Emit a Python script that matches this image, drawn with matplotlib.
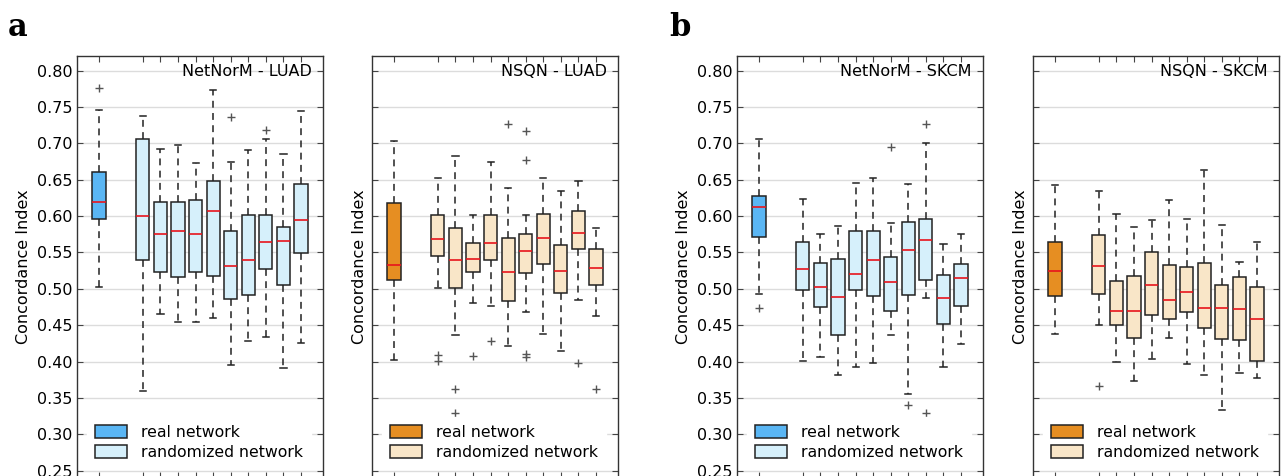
import numpy as np
import matplotlib
matplotlib.use("Agg")
import matplotlib.pyplot as plt
from matplotlib.patches import Patch

# panel titles
titles = ["NetNorM - LUAD", "NSQN - LUAD", "NetNorM - SKCM", "NSQN - SKCM"]

# box stats per panel: first entry = real network, then 10 randomized networks
# (whislo, q1, med, q3, whishi)
luad_netnorm_lo = [0.502, 0.359, 0.465, 0.454, 0.454, 0.460, 0.395, 0.428, 0.434, 0.391, 0.426]
luad_netnorm_q1 = [0.596, 0.540, 0.523, 0.516, 0.523, 0.518, 0.486, 0.492, 0.527, 0.505, 0.549]
luad_netnorm_med = [0.619, 0.600, 0.575, 0.579, 0.576, 0.607, 0.531, 0.539, 0.564, 0.566, 0.594]
luad_netnorm_q3 = [0.660, 0.706, 0.620, 0.620, 0.622, 0.648, 0.580, 0.601, 0.601, 0.585, 0.644]
luad_netnorm_hi = [0.746, 0.737, 0.692, 0.697, 0.673, 0.773, 0.675, 0.691, 0.706, 0.685, 0.745]
luad_netnorm_fl = [[0.776], [], [], [], [], [], [0.736], [], [0.718], [], []]

luad_nsqn_lo = [0.402, 0.501, 0.436, 0.480, 0.476, 0.421, 0.468, 0.438, 0.414, 0.485, 0.462]
luad_nsqn_q1 = [0.512, 0.545, 0.501, 0.523, 0.540, 0.483, 0.522, 0.534, 0.494, 0.555, 0.505]
luad_nsqn_med = [0.533, 0.569, 0.539, 0.541, 0.563, 0.523, 0.552, 0.570, 0.524, 0.577, 0.529]
luad_nsqn_q3 = [0.618, 0.602, 0.583, 0.563, 0.602, 0.570, 0.575, 0.603, 0.560, 0.607, 0.555]
luad_nsqn_hi = [0.703, 0.652, 0.683, 0.602, 0.675, 0.639, 0.602, 0.652, 0.635, 0.648, 0.584]
luad_nsqn_fl = [[], [0.409, 0.401], [0.363, 0.330], [0.408], [0.428], [0.726],
                [0.717, 0.677, 0.410, 0.406], [], [], [0.398], [0.363]]

skcm_netnorm_lo = [0.493, 0.401, 0.406, 0.382, 0.392, 0.398, 0.437, 0.356, 0.488, 0.392, 0.424]
skcm_netnorm_q1 = [0.571, 0.499, 0.475, 0.437, 0.499, 0.490, 0.469, 0.491, 0.512, 0.451, 0.477]
skcm_netnorm_med = [0.613, 0.527, 0.503, 0.489, 0.521, 0.540, 0.509, 0.554, 0.567, 0.487, 0.515]
skcm_netnorm_q3 = [0.627, 0.565, 0.536, 0.541, 0.580, 0.579, 0.544, 0.592, 0.596, 0.519, 0.534]
skcm_netnorm_hi = [0.706, 0.624, 0.576, 0.586, 0.646, 0.653, 0.591, 0.644, 0.701, 0.561, 0.575]
skcm_netnorm_fl = [[0.473], [], [], [], [], [], [0.695], [0.341], [0.726, 0.330], [], []]

skcm_nsqn_lo = [0.438, 0.450, 0.400, 0.373, 0.403, 0.432, 0.397, 0.381, 0.333, 0.384, 0.378]
skcm_nsqn_q1 = [0.490, 0.493, 0.450, 0.433, 0.464, 0.459, 0.468, 0.446, 0.431, 0.429, 0.401]
skcm_nsqn_med = [0.524, 0.531, 0.469, 0.469, 0.505, 0.485, 0.495, 0.473, 0.473, 0.472, 0.459]
skcm_nsqn_q3 = [0.564, 0.574, 0.511, 0.518, 0.551, 0.533, 0.530, 0.536, 0.505, 0.516, 0.502]
skcm_nsqn_hi = [0.643, 0.634, 0.603, 0.585, 0.595, 0.622, 0.596, 0.663, 0.588, 0.537, 0.564]
skcm_nsqn_fl = [[], [0.367], [], [], [], [], [], [], [], [], []]

panels = [
    (luad_netnorm_lo, luad_netnorm_q1, luad_netnorm_med, luad_netnorm_q3, luad_netnorm_hi, luad_netnorm_fl),
    (luad_nsqn_lo, luad_nsqn_q1, luad_nsqn_med, luad_nsqn_q3, luad_nsqn_hi, luad_nsqn_fl),
    (skcm_netnorm_lo, skcm_netnorm_q1, skcm_netnorm_med, skcm_netnorm_q3, skcm_netnorm_hi, skcm_netnorm_fl),
    (skcm_nsqn_lo, skcm_nsqn_q1, skcm_nsqn_med, skcm_nsqn_q3, skcm_nsqn_hi, skcm_nsqn_fl),
]

# colours (real, randomized)
blue = ("#5ab6f4", "#d6f0fb")
orange = ("#e68e22", "#f9e6c8")
panel_colors = [blue, orange, blue, orange]

positions = [1] + [3.5 + i for i in range(10)]

fig = plt.figure(figsize=(12.86, 4.76), dpi=100)
W, H = 1286.0, 476.0
lefts = [77, 372, 737, 1033]
ax_w = 246
ax_top = 56
ax_bot = 478  # axes bottom sits just below the picture edge

for k in range(4):
    ax = fig.add_axes([lefts[k] / W, (H - ax_bot) / H, ax_w / W, (ax_bot - ax_top) / H])
    lo, q1, med, q3, hi, fl = panels[k]
    stats = []
    for i in range(len(med)):
        stats.append(dict(med=med[i], q1=q1[i], q3=q3[i], whislo=lo[i], whishi=hi[i], fliers=fl[i]))
    bp = ax.bxp(stats, positions=positions, widths=0.75, capwidths=0.35, patch_artist=True,
                boxprops=dict(edgecolor="#222222", linewidth=1.1),
                whiskerprops=dict(color="#222222", linestyle=(0, (4.5, 3.5)), linewidth=1.1),
                capprops=dict(color="#222222", linewidth=1.1),
                medianprops=dict(color="#e8141c", linewidth=1.2),
                flierprops=dict(marker="+", markeredgecolor="#555555", markersize=6, linestyle="none"))
    for i, box in enumerate(bp["boxes"]):
        box.set_facecolor(panel_colors[k][0] if i == 0 else panel_colors[k][1])
        box.set_zorder(3)
    for ln in bp["medians"]:
        ln.set_zorder(4)

    ax.set_xlim(-0.25, 13.75)
    ax.set_ylim(0.24, 0.82)
    yt = np.arange(0.25, 0.801, 0.05)
    ax.set_yticks(yt)
    ax.set_xticks(positions)
    ax.set_xticklabels([])
    ax.grid(axis="y", color="#dcdcdc", linewidth=1.0, zorder=0)
    ax.set_axisbelow(True)
    ax.tick_params(direction="in", top=True, right=True, length=4, width=0.8, color="#444444",
                   labelsize=11.5)
    if k % 2 == 0:
        ax.set_yticklabels(["%.2f" % v for v in yt])
        ax.set_ylabel("Concordance Index", fontsize=11.5, labelpad=4)
    else:
        ax.set_yticklabels([])
        ax.set_ylabel("Concordance Index", fontsize=11.5, labelpad=0)
    for sp in ax.spines.values():
        sp.set_color("#333333")
        sp.set_linewidth(1.0)
    ax.text(0.955, 0.98, titles[k], transform=ax.transAxes, ha="right", va="top", fontsize=11.5)

    handles = [Patch(facecolor=panel_colors[k][0], edgecolor="#222222", linewidth=1.1),
               Patch(facecolor=panel_colors[k][1], edgecolor="#222222", linewidth=1.1)]
    leg = ax.legend(handles, ["real network", "randomized network"], loc="lower left",
                    bbox_to_anchor=(0.01, 0.005), fontsize=11.3, handlelength=2.0, handleheight=0.9,
                    handletextpad=0.9, framealpha=1.0, fancybox=False, borderpad=0.5,
                    labelspacing=0.35)
    leg.get_frame().set_edgecolor("white")

fig.text(8 / W, 1 - 36 / H, "a", fontsize=22, fontweight="bold", family="DejaVu Serif")
fig.text(669 / W, 1 - 36 / H, "b", fontsize=22, fontweight="bold", family="DejaVu Serif")

fig.savefig("out.png", dpi=100)
